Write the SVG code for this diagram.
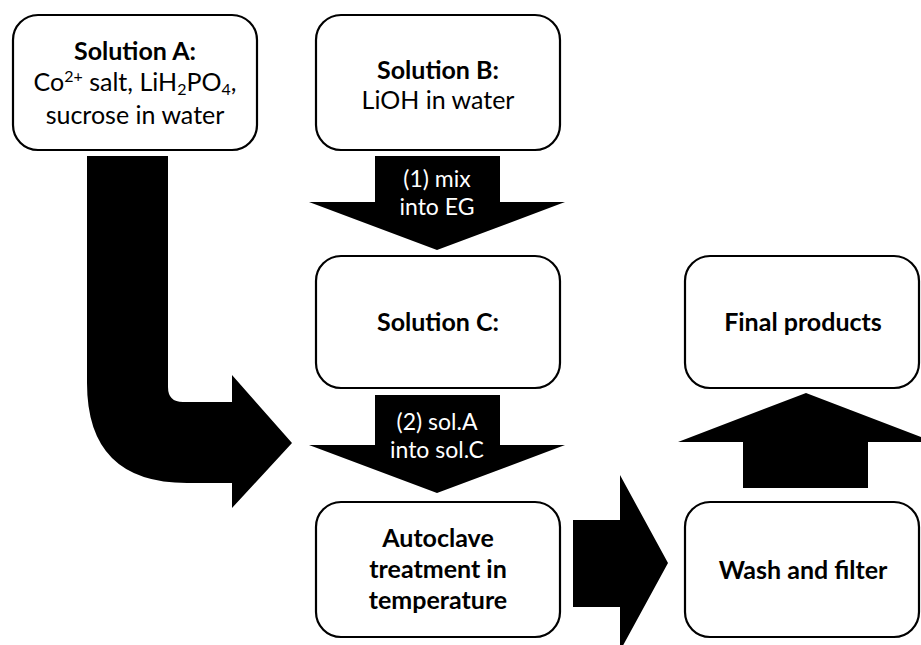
<svg xmlns="http://www.w3.org/2000/svg" width="921" height="645" viewBox="0 0 921 645">
<style>
.box{fill:#fff;stroke:#000;stroke-width:2.2}
.arr{fill:#000;stroke:none}
text{font-family:"Lato","Liberation Sans",sans-serif;font-size:25px;text-anchor:middle}
.b{font-weight:bold}
.w{fill:#fff;font-size:23px}
</style>
<rect width="921" height="645" fill="#fff"/>
<g id="connectors">
<path class="arr" d="M87,156 H168 V387 Q168,402 183,402 H232 V375 L292,443 L232,508 V483 H187 Q87,483 87,383 Z"/>
<path class="arr" d="M375,156 H500 V202 H565 L437,250 L309,202 H375 Z"/>
<path class="arr" d="M375,395 H500 V445 H565 L437,493 L309,445 H375 Z"/>
<path class="arr" d="M573,520 H620 V475 L668,563 L620,651 V607 H573 Z"/>
<path class="arr" d="M743,488 V442 H678 L806,393 L934,442 H868 V488 Z"/>
</g>
<g id="solA">
<rect class="box" x="13" y="15" width="244" height="135" rx="25"/>
<text class="b" x="135" y="60">Solution A:</text>
<text x="135" y="91">Co<tspan font-size="16" dy="-9">2+</tspan><tspan dy="9"> salt, LiH</tspan><tspan font-size="16" dy="4">2</tspan><tspan dy="-4">PO</tspan><tspan font-size="16" dy="4">4</tspan><tspan dy="-4">,</tspan></text>
<text x="135" y="124">sucrose in water</text>
</g>
<g id="solB">
<rect class="box" x="316" y="15" width="244" height="135" rx="25"/>
<text class="b" x="438" y="79">Solution B:</text>
<text x="438" y="109">LiOH in water</text>
</g>
<text class="w" x="437" y="187">(1) mix</text>
<text class="w" x="437" y="215">into EG</text>
<g id="solC">
<rect class="box" x="316" y="256" width="244" height="132" rx="25"/>
<text class="b" x="438" y="331">Solution C:</text>
</g>
<text class="w" x="437" y="430">(2) sol.A</text>
<text class="w" x="437" y="458">into sol.C</text>
<g id="autoclave">
<rect class="box" x="316" y="502" width="244" height="135" rx="25"/>
<text class="b" x="438" y="547">Autoclave</text>
<text class="b" x="438" y="578">treatment in</text>
<text class="b" x="438" y="609">temperature</text>
</g>
<g id="final">
<rect class="box" x="685" y="256" width="234" height="132" rx="25"/>
<text class="b" x="803" y="331">Final products</text>
</g>
<g id="wash">
<rect class="box" x="685" y="502" width="234" height="135" rx="25"/>
<text class="b" x="803" y="579">Wash and filter</text>
</g>
</svg>
